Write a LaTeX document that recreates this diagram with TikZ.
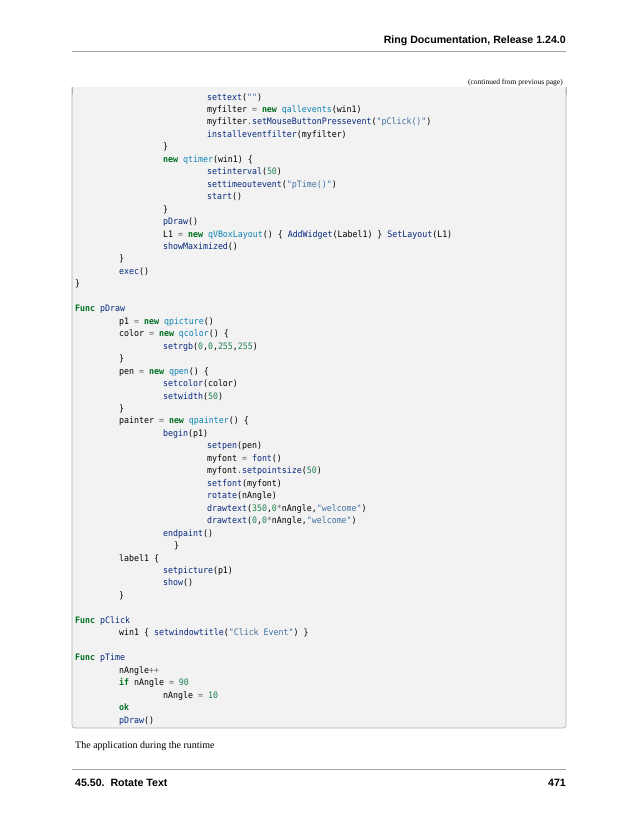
\documentclass[tikz,border=0pt]{standalone}
\usepackage{fontspec}
\setmainfont{Liberation Serif}
\newfontfamily\hdfont{Liberation Sans}
\newfontfamily\codefont[FakeStretch=0.93]{DejaVu Sans Mono}
\definecolor{kw}{HTML}{007020}
\definecolor{fn}{HTML}{06287E}
\definecolor{cls}{HTML}{0E84B5}
\definecolor{str}{HTML}{4070A0}
\definecolor{num}{HTML}{208050}
\definecolor{op}{HTML}{666666}
\definecolor{boxbg}{HTML}{F2F2F2}
\newcommand\ck[1]{\textcolor{kw}{\bfseries #1}}
\newcommand\cf[1]{\textcolor{fn}{#1}}
\newcommand\cc[1]{\textcolor{cls}{#1}}
\newcommand\cs[1]{\textcolor{str}{#1}}
\newcommand\cn[1]{\textcolor{num}{#1}}
\newcommand\co[1]{\textcolor{op}{#1}}
\newcommand\cl[4]{\node[codeline] (#1) at ({75+44*#2},{-100-12.46*(#3-1)}) {#4};}
\begin{document}
\begin{tikzpicture}[x=1pt,y=1pt,
  codeline/.style={anchor=base west,inner sep=0pt,font=\codefont\fontsize{8.9}{11}\selectfont},
  hd/.style={inner sep=0pt,font=\hdfont\bfseries\fontsize{10.6}{12}\selectfont}]
\useasboundingbox[fill=white] (0,0) rectangle (638,-825);
% header
\node[hd,anchor=base east] (title) at (566,-43) {Ring Documentation, Release 1.24.0};
\draw[gray!70,line width=0.6pt] (72,-51) -- (566,-51);
\node[inner sep=0pt,anchor=base east,font=\fontsize{7.5}{9}\selectfont] (cont) at (563,-84) {(continued from previous page)};
% code box
\fill[boxbg,rounded corners=3pt] (72,-87) -- (72,-728) -- (566,-728) -- (566,-87) -- cycle;
\fill[boxbg] (72,-87) rectangle (566,-100);
\draw[gray!60,line width=0.7pt,rounded corners=3pt] (72,-87) -- (72,-728) -- (566,-728) -- (566,-87);
\draw[gray!60,line width=0.7pt] (72,-87) -- (72,-95) (566,-87) -- (566,-95);
\cl{l1}{3}{1}{\cf{settext}(\cs{""})}
\cl{l2}{3}{2}{myfilter \co{=} \ck{new} \cc{qallevents}(win1)}
\cl{l3}{3}{3}{myfilter\co{.}\cf{setMouseButtonPressevent}(\cs{"pClick()"})}
\cl{l4}{3}{4}{\cf{installeventfilter}(myfilter)}
\cl{l5}{2}{5}{\}}
\cl{l6}{2}{6}{\ck{new} \cc{qtimer}(win1) \{}
\cl{l7}{3}{7}{\cf{setinterval}(\cn{50})}
\cl{l8}{3}{8}{\cf{settimeoutevent}(\cs{"pTime()"})}
\cl{l9}{3}{9}{\cf{start}()}
\cl{l10}{2}{10}{\}}
\cl{l11}{2}{11}{\cf{pDraw}()}
\cl{l12}{2}{12}{L1 \co{=} \ck{new} \cc{qVBoxLayout}() \{ \cf{AddWidget}(Label1) \} \cf{SetLayout}(L1)}
\cl{l13}{2}{13}{\cf{showMaximized}()}
\cl{l14}{1}{14}{\}}
\cl{l15}{1}{15}{\cf{exec}()}
\cl{l16}{0}{16}{\}}
\cl{l18}{0}{18}{\ck{Func} \cf{pDraw}}
\cl{l19}{1}{19}{p1 \co{=} \ck{new} \cc{qpicture}()}
\cl{l20}{1}{20}{color \co{=} \ck{new} \cc{qcolor}() \{}
\cl{l21}{2}{21}{\cf{setrgb}(\cn{0},\cn{0},\cn{255},\cn{255})}
\cl{l22}{1}{22}{\}}
\cl{l23}{1}{23}{pen \co{=} \ck{new} \cc{qpen}() \{}
\cl{l24}{2}{24}{\cf{setcolor}(color)}
\cl{l25}{2}{25}{\cf{setwidth}(\cn{50})}
\cl{l26}{1}{26}{\}}
\cl{l27}{1}{27}{painter \co{=} \ck{new} \cc{qpainter}() \{}
\cl{l28}{2}{28}{\cf{begin}(p1)}
\cl{l29}{3}{29}{\cf{setpen}(pen)}
\cl{l30}{3}{30}{myfont \co{=} \cf{font}()}
\cl{l31}{3}{31}{myfont\co{.}\cf{setpointsize}(\cn{50})}
\cl{l32}{3}{32}{\cf{setfont}(myfont)}
\cl{l33}{3}{33}{\cf{rotate}(nAngle)}
\cl{l34}{3}{34}{\cf{drawtext}(\cn{350},\cn{0}\co{*}nAngle,\cs{"welcome"})}
\cl{l35}{3}{35}{\cf{drawtext}(\cn{0},\cn{0}\co{*}nAngle,\cs{"welcome"})}
\cl{l36}{2}{36}{\cf{endpaint}()}
\cl{l37}{2.25}{37}{\}}
\cl{l38}{1}{38}{label1 \{}
\cl{l39}{2}{39}{\cf{setpicture}(p1)}
\cl{l40}{2}{40}{\cf{show}()}
\cl{l41}{1}{41}{\}}
\cl{l43}{0}{43}{\ck{Func} \cf{pClick}}
\cl{l44}{1}{44}{win1 \{ \cf{setwindowtitle}(\cs{"Click Event"}) \}}
\cl{l46}{0}{46}{\ck{Func} \cf{pTime}}
\cl{l47}{1}{47}{nAngle\co{++}}
\cl{l48}{1}{48}{\ck{if} nAngle \co{=} \cn{90}}
\cl{l49}{2}{49}{nAngle \co{=} \cn{10}}
\cl{l50}{1}{50}{\ck{ok}}
\cl{l51}{1}{51}{\cf{pDraw}()}
% body text
\node[inner sep=0pt,anchor=base west,font=\fontsize{10}{12}\selectfont] (body) at (75,-748) {The application during the runtime};
% footer
\draw[gray!70,line width=0.6pt] (72,-769) -- (566,-769);
\node[hd,anchor=base west] (sec) at (75,-786) {45.50.\ \ Rotate Text};
\node[hd,anchor=base east] (page) at (566,-786) {471};
\end{tikzpicture}
\end{document}
